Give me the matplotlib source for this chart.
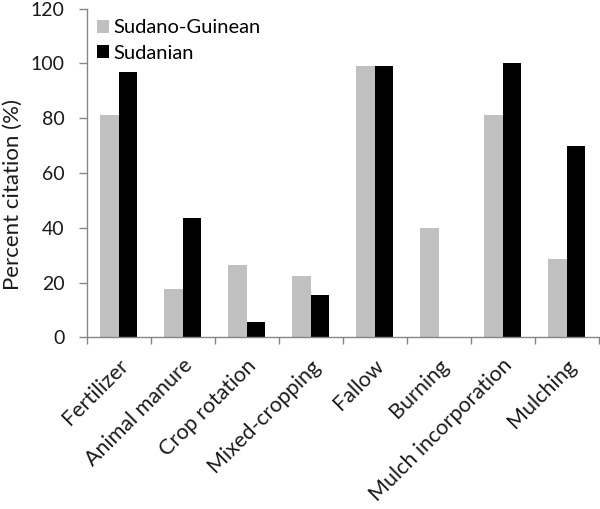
import matplotlib.pyplot as plt
import numpy as np

categories = ['Fertilizer', 'Animal manure', 'Crop rotation', 'Mixed-cropping',
              'Fallow', 'Burning', 'Mulch incorporation', 'Mulching']
sudano_guinean = [81, 17.5, 26.5, 22.5, 99, 40, 81, 28.5]
sudanian = [97, 43.5, 5.5, 15.5, 99, 0, 100, 70]
yticks = [0, 20, 40, 60, 80, 100, 120]

plt.rcParams['font.family'] = ['Lato', 'DejaVu Sans']

fig = plt.figure(figsize=(6, 5.09), dpi=100)
ax = fig.add_axes([0.1442, 0.3373, 0.8538, 0.6458])

x = np.arange(len(categories))
w = 0.287
ax.bar(x - w / 2, sudano_guinean, w, color='#c0c0c0', label='Sudano-Guinean')
ax.bar(x + w / 2, sudanian, w, color='black', label='Sudanian')

ax.set_xlim(-0.5, len(categories) - 0.5)
ax.set_ylim(0, 120)
ax.set_yticks(yticks)
ax.tick_params(axis='y', labelsize=14, length=5.5, width=1, color='#868686',
               pad=10.5, labelcolor='#1a1a1a')

# category boundaries as ticks, labels placed between them
ax.set_xticks(np.arange(len(categories) + 1) - 0.5)
ax.set_xticklabels([])
ax.tick_params(axis='x', length=5, width=1, color='#868686')
for i, c in enumerate(categories):
    ax.text(i - 0.01, -6.6, c, rotation=45, ha='right', va='top',
            rotation_mode='anchor', fontsize=15.5, color='#1a1a1a')

ax.set_ylabel('Percent citation (%)', fontsize=16, color='#1a1a1a')
ax.yaxis.set_label_coords(-0.124, 0.435)

for s in ['top', 'right']:
    ax.spines[s].set_visible(False)
for s in ['left', 'bottom']:
    ax.spines[s].set_color('#868686')
    ax.spines[s].set_linewidth(1)

ax.legend(loc='upper left', bbox_to_anchor=(0.02, 0.967), frameon=False,
          fontsize=14.5, handlelength=0.6, handleheight=0.6, handletextpad=0.2,
          labelspacing=0.4, borderaxespad=0.0, borderpad=0.0)

fig.savefig('out.png', dpi=100)
